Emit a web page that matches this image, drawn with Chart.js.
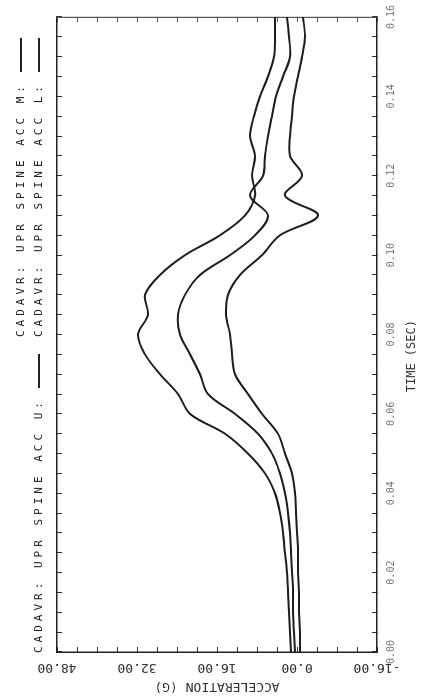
<!DOCTYPE html>
<html>
<head>
<meta charset="utf-8">
<script src="https://cdn.jsdelivr.net/npm/chart.js@4"></script>
<style>
  html, body { margin: 0; padding: 0; background: #fff; overflow: hidden; }
  #page { position: absolute; left: 0; top: 0; width: 698px; height: 423px;
          transform-origin: 0 0; transform: translateY(698px) rotate(-90deg); }
  #chart { position: absolute; left: 0; top: 0; }
  .key { position: absolute; font-family: "DejaVu Sans Mono", monospace; font-size: 11px;
         letter-spacing: 4px; color: #222; white-space: pre; line-height: 12px; }
  .key span { display: inline-block; width: 34px; border-top: 2px solid #222;
              vertical-align: middle; margin-left: 10px; }
</style>
</head>
<body>
<div id="page">
  <canvas id="chart" width="698" height="423"></canvas>
  <div class="key" style="left:45px; top:33px;">CADAVR: UPR SPINE ACC U:<span></span></div>
  <div class="key" style="left:361px; top:15px;">CADAVR: UPR SPINE ACC M:<span></span></div>
  <div class="key" style="left:361px; top:33px;">CADAVR: UPR SPINE ACC L:<span></span></div>
</div>
<script>
// time (s) and acceleration (G)
const times = [0, 0.005, 0.01, 0.015, 0.02, 0.025, 0.03, 0.035, 0.04, 0.045, 0.05,
  0.055, 0.06, 0.065, 0.07, 0.075, 0.08, 0.085, 0.09, 0.095, 0.1,
  0.105, 0.11, 0.115, 0.12, 0.125, 0.13, 0.135, 0.14, 0.145, 0.15, 0.155, 0.16];

const accU = [1.2, 1.4, 1.6, 1.8, 2.0, 2.4, 2.8, 3.4, 4.4, 6.4, 9.8,
  14.4, 21.4, 23.8, 27.4, 30.4, 31.8, 29.8, 30.4, 27.4, 22.4,
  15.4, 10.4, 8.4, 9.0, 8.4, 9.4, 8.6, 7.4, 5.8, 4.6, 4.4, 4.4];

const accM = [0.4, 0.6, 0.8, 0.8, 1.0, 1.2, 1.4, 1.8, 2.4, 3.4, 5.0,
  7.8, 12.4, 17.8, 19.4, 21.4, 23.4, 23.8, 22.4, 19.4, 13.4,
  8.4, 5.8, 9.4, 6.8, 6.4, 5.8, 5.0, 4.2, 2.8, 1.4, 1.6, 2.0];

const accL = [-0.6, -0.6, -0.4, -0.4, -0.2, -0.2, 0, 0.2, 0.4, 1.0, 2.4,
  3.8, 7.0, 9.8, 12.4, 13.0, 13.4, 14.2, 13.8, 11.4, 7.0,
  3.4, -4.2, 2.4, -1.0, 1.4, 1.4, 1.0, 0.6, -0.2, -1.0, -1.6, -1.2];

const timeLabels = [0, 0.02, 0.04, 0.06, 0.08, 0.1, 0.12, 0.14, 0.16];
const accLabels = [-16, 0, 16, 32, 48];

const toPoints = (vals) => vals.map((v, i) => ({ x: times[i], y: v }));

function lineSet(label, vals) {
  return {
    label,
    data: toPoints(vals),
    borderColor: '#1e1e1e',
    borderWidth: 2,
    pointRadius: 0,
    tension: 0.35,
    fill: false,
    xAxisID: 'x',
    yAxisID: 'y'
  };
}

Chart.defaults.font.family = '"DejaVu Sans Mono", monospace';
Chart.defaults.color = '#333';

// fixed axis boxes so the plot area sits where the scan has it
function fixBox(size) {
  return (s) => {
    if (s.isHorizontal()) s.height = size; else s.width = size;
    s.paddingLeft = s.paddingRight = s.paddingTop = s.paddingBottom = 0;
  };
}

// negative tick length -> tick marks point into the plot, like the plotter output
const ctx = document.getElementById('chart').getContext('2d');
new Chart(ctx, {
  type: 'line',
  data: {
    datasets: [
      lineSet('CADAVR: UPR SPINE ACC U:', accU),
      lineSet('CADAVR: UPR SPINE ACC M:', accM),
      lineSet('CADAVR: UPR SPINE ACC L:', accL)
    ]
  },
  options: {
    responsive: false,
    animation: false,
    devicePixelRatio: 1,
    layout: { padding: 0 },
    plugins: { legend: { display: false }, tooltip: { enabled: false } },
    scales: {
      x: {
        type: 'linear', position: 'bottom', min: 0, max: 0.16,
        afterFit: fixBox(46),
        border: { color: '#222', width: 1.5 },
        grid: { drawOnChartArea: false, tickLength: -5, color: '#333' },
        ticks: {
          stepSize: 0.005, autoSkip: false, maxRotation: 0, padding: 13,
          font: { size: 10 }, color: '#777',
          callback: (v) => {
            const hit = timeLabels.find((t) => Math.abs(t - v) < 1e-6);
            return hit === undefined ? '' : hit.toFixed(2);
          }
        },
        title: { display: true, text: 'TIME (SEC)      ', font: { size: 12 }, padding: { top: 0 }, color: '#333' }
      },
      x2: {
        type: 'linear', position: 'top', min: 0, max: 0.16,
        afterFit: fixBox(57),
        border: { color: '#222', width: 1.5 },
        grid: { drawOnChartArea: false, tickLength: -5, color: '#333' },
        ticks: { display: false, stepSize: 0.005, autoSkip: false }
      },
      y: {
        type: 'linear', position: 'left', min: -16, max: 48,
        afterFit: fixBox(46),
        border: { color: '#222', width: 1.5 },
        grid: { drawOnChartArea: false, tickLength: -5, color: '#333' },
        ticks: {
          stepSize: 4, autoSkip: false, minRotation: 90, maxRotation: 90,
          crossAlign: 'center', padding: -3, font: { size: 13 }, color: '#333',
          callback: (v) => accLabels.includes(v) ? v.toFixed(2) : ''
        },
        title: { display: true, text: 'ACCELERATION (G)', font: { size: 13 }, padding: { top: 4 }, color: '#333' }
      },
      y2: {
        type: 'linear', position: 'right', min: -16, max: 48,
        afterFit: fixBox(17),
        border: { color: '#555', width: 1.2, dash: [3, 5] },
        grid: { drawOnChartArea: false, tickLength: -5, color: '#555' },
        ticks: { display: false, stepSize: 4, autoSkip: false }
      }
    }
  }
});
</script>
</body>
</html>
